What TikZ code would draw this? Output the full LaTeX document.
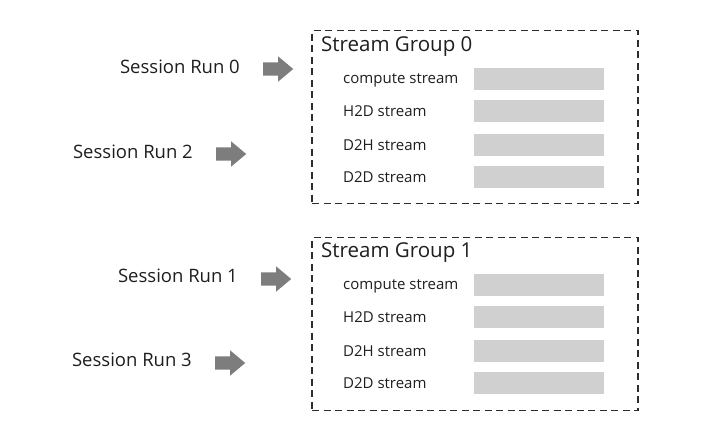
\documentclass[tikz,border=0pt]{standalone}
\usepackage{fontspec}
\setmainfont{Open Sans}
\usepackage{xcolor}
\usetikzlibrary{positioning, shapes.arrows}
\definecolor{tinta}{RGB}{30,30,30}
\definecolor{flecha}{RGB}{125,125,125}
\definecolor{barra}{RGB}{208,208,208}
\definecolor{borde}{RGB}{45,45,45}

\begin{document}
\begin{tikzpicture}[
        x=1pt, y=-1pt,
        session/.style={anchor=east, inner sep=0pt, text=tinta, font=\fontsize{18.5}{22}\selectfont},
        runarrow/.style={single arrow, fill=flecha, draw=none, inner sep=6.5pt, minimum height=30pt, single arrow head extend=6pt, single arrow tip angle=80},
        group/.style={draw=borde, line width=1.3pt, dash pattern=on 7pt off 4.5pt, minimum width=326pt, minimum height=173pt},
        title/.style={anchor=west, inner sep=0pt, text=tinta, font=\fontsize{20.5}{24}\selectfont},
        stream/.style={anchor=west, inner sep=0pt, text=tinta, font=\fontsize{15}{18}\selectfont},
        slot/.style={fill=barra, draw=none, minimum width=130pt, minimum height=22pt, inner sep=0pt}
    ]
        \useasboundingbox (0,0) rectangle (716,434);

        % stream group 0
        \node[group] (grp0) at (475,117) {};
        \node[title] (tit0) at (321,47) {Stream Group 0};
        \node[stream] (comp0) at (343,80) {compute stream};
        \node[stream] (htod0) at (343,111) {H2D stream};
        \node[stream] (dtoh0) at (343,145) {D2H stream};
        \node[stream] (dtod0) at (343,177) {D2D stream};
        \node[slot] (scomp0) at (539,79) {};
        \node[slot] (shtod0) at (539,111) {};
        \node[slot] (sdtoh0) at (539,145) {};
        \node[slot] (sdtod0) at (539,177) {};

        % stream group 1
        \node[group] (grp1) at (475,324) {};
        \node[title] (tit1) at (321,253) {Stream Group 1};
        \node[stream] (comp1) at (343,286) {compute stream};
        \node[stream] (htod1) at (343,317) {H2D stream};
        \node[stream] (dtoh1) at (343,351) {D2H stream};
        \node[stream] (dtod1) at (343,383) {D2D stream};
        \node[slot] (scomp1) at (539,285) {};
        \node[slot] (shtod1) at (539,317) {};
        \node[slot] (sdtoh1) at (539,351) {};
        \node[slot] (sdtod1) at (539,383) {};

        % session runs
        \node[session] (run0) at (240,67) {Session Run 0};
        \node[session] (run2) at (193,152) {Session Run 2};
        \node[session] (run1) at (238,276) {Session Run 1};
        \node[session] (run3) at (192,360) {Session Run 3};

        \node[runarrow, right=23pt of run0, yshift=-2pt] (arr0) {};
        \node[runarrow, right=23pt of run2, yshift=-2pt] (arr2) {};
        \node[runarrow, right=23pt of run1, yshift=-3pt] (arr1) {};
        \node[runarrow, right=23pt of run3, yshift=-3pt] (arr3) {};
    \end{tikzpicture}
\end{document}
